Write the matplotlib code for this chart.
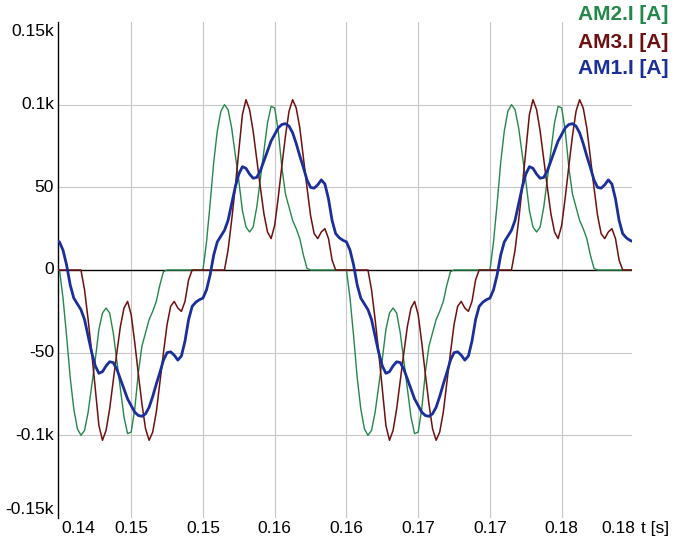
import numpy as np
import matplotlib
matplotlib.use("Agg")
import matplotlib.pyplot as plt
import matplotlib.transforms as mtrans

# ---------------- data ----------------
# sample times (s), step 0.25 ms
t = 0.13975 + 0.00025 * np.arange(162)

am2 = [0,
       0, -17, -40, -65, -84, -96, -100, -97, -86, -70, -54, -36, -26, -23, -26, -38, -55, -72, -89, -99,
       -98, -84, -62, -46, -38, -30, -25, -19, -9, -1, 0, 0, 0, 0, 0, 0, 0, 0, 0, 0,
       0, 17, 40, 65, 84, 96, 100, 97, 86, 70, 54, 36, 26, 23, 26, 38, 55, 72, 89, 99,
       98, 84, 62, 46, 38, 30, 25, 19, 9, 1, 0, 0, 0, 0, 0, 0, 0, 0, 0, 0,
       0, -17, -40, -65, -84, -96, -100, -97, -86, -70, -54, -36, -26, -23, -26, -38, -55, -72, -89, -99,
       -98, -84, -62, -46, -38, -30, -25, -19, -9, -1, 0, 0, 0, 0, 0, 0, 0, 0, 0, 0,
       0, 17, 40, 65, 84, 96, 100, 97, 86, 70, 54, 36, 26, 23, 26, 38, 55, 72, 89, 99,
       98, 84, 62, 46, 38, 30, 25, 19, 9, 1, 0, 0, 0, 0, 0, 0, 0, 0, 0, 0,
       0]

am3 = [0,
       0, 0, 0, 0, 0, 0, 0, -12, -30, -50, -72, -94, -103, -97, -84, -67, -50, -34, -23, -19,
       -27, -44, -63, -81, -96, -103, -98, -86, -68, -50, -33, -22, -19, -23, -25, -19, -6, 0, 0, 0,
       0, 0, 0, 0, 0, 0, 0, 12, 30, 50, 72, 94, 103, 97, 84, 67, 50, 34, 23, 19,
       27, 44, 63, 81, 96, 103, 98, 86, 68, 50, 33, 22, 19, 23, 25, 19, 6, 0, 0, 0,
       0, 0, 0, 0, 0, 0, 0, -12, -30, -50, -72, -94, -103, -97, -84, -67, -50, -34, -23, -19,
       -27, -44, -63, -81, -96, -103, -98, -86, -68, -50, -33, -22, -19, -23, -25, -19, -6, 0, 0, 0,
       0, 0, 0, 0, 0, 0, 0, 12, 30, 50, 72, 94, 103, 97, 84, 67, 50, 34, 23, 19,
       27, 44, 63, 81, 96, 103, 98, 86, 68, 50, 33, 22, 19, 23, 25, 19, 6, 0, 0, 0,
       0]

am1 = [18,
       17, 12, 3, -9, -17, -20.5, -24, -30, -40, -50, -58, -62.5, -61.5, -58, -55.5, -56, -60, -66, -72, -78,
       -82, -86, -88, -88.5, -87, -83, -76.5, -69, -62, -54.5, -50, -49.5, -51.5, -54.5, -52, -43, -30, -22, -19.5, -18,
       -17, -12, -3, 9, 17, 20.5, 24, 30, 40, 50, 58, 62.5, 61.5, 58, 55.5, 56, 60, 66, 72, 78,
       82, 86, 88, 88.5, 87, 83, 76.5, 69, 62, 54.5, 50, 49.5, 51.5, 54.5, 52, 43, 30, 22, 19.5, 18,
       17, 12, 3, -9, -17, -20.5, -24, -30, -40, -50, -58, -62.5, -61.5, -58, -55.5, -56, -60, -66, -72, -78,
       -82, -86, -88, -88.5, -87, -83, -76.5, -69, -62, -54.5, -50, -49.5, -51.5, -54.5, -52, -43, -30, -22, -19.5, -18,
       -17, -12, -3, 9, 17, 20.5, 24, 30, 40, 50, 58, 62.5, 61.5, 58, 55.5, 56, 60, 66, 72, 78,
       82, 86, 88, 88.5, 87, 83, 76.5, 69, 62, 54.5, 50, 49.5, 51.5, 54.5, 52, 43, 30, 22, 19.5, 18,
       17]

series_names = ["AM2.I [A]", "AM3.I [A]", "AM1.I [A]"]
xtick_pos = [0.1399, 0.145, 0.15, 0.155, 0.16, 0.165, 0.17, 0.175, 0.1799]
xtick_labels = ["0.14", "0.15", "0.15", "0.16", "0.16", "0.17", "0.17", "0.18", "0.18"]
ytick_pos = [150, 100, 50, 0, -50, -100, -150]
ytick_labels = ["0.15k", "0.1k", "50", "0", "-50", "-0.1k", "-0.15k"]

# ---------------- style ----------------
GREEN = "#23884a"
RED = "#6e1010"
BLUE = "#1a2f9a"
FONT = "Liberation Sans"

W, H = 678, 544
fig = plt.figure(figsize=(W / 100, H / 100), dpi=100)
ax = fig.add_axes([58 / W, 1 - 518 / H, (632 - 58) / W, (518 - 22) / H])
ax.set_xlim(0.1399, 0.1799)
ax.set_ylim(-150, 150)

for s in ["top", "right", "bottom"]:
    ax.spines[s].set_visible(False)
ax.spines["left"].set_color("black")
ax.spines["left"].set_linewidth(1.0)

ax.set_xticks(xtick_pos[1:-1])
ax.set_yticks([100, 50, -50, -100])
ax.grid(True, color="#c8c8c8", linewidth=0.8)
ax.tick_params(length=0, labelbottom=False, labelleft=False)
ax.set_axisbelow(True)

ax.axhline(0, color="black", linewidth=1.0, zorder=2)

ax.plot(t, am2, color=GREEN, linewidth=1.0, zorder=3)
ax.plot(t, am3, color=RED, linewidth=1.1, zorder=4)
ax.plot(t, am1, color=BLUE, linewidth=2.0, zorder=5)

# y labels
ytrans = mtrans.blended_transform_factory(ax.transAxes, ax.transData)
for v, lab in zip(ytick_pos, ytick_labels):
    va = "center"
    dy = 0
    if v == 150:
        va = "top"
        dy = -2
    elif v == -150:
        va = "bottom"
        dy = 1
    tr = mtrans.offset_copy(ytrans, fig=fig, x=-4, y=dy, units="dots")
    ax.text(0, v, lab, transform=tr, ha="right", va=va, fontsize=12.5,
            family=FONT, color="black", clip_on=False)

# x labels
xtrans = mtrans.blended_transform_factory(ax.transData, ax.transAxes)
n = len(xtick_pos)
for i, (v, lab) in enumerate(zip(xtick_pos, xtick_labels)):
    ha = "center"
    dx = 0
    if i == 0:
        ha = "left"
        dx = 3
    elif i == n - 1:
        ha = "right"
        dx = 3
    tr = mtrans.offset_copy(xtrans, fig=fig, x=dx, y=-3, units="dots")
    ax.text(v, 0, lab, transform=tr, ha=ha, va="top", fontsize=12.5,
            family=FONT, color="black", clip_on=False)
tr = mtrans.offset_copy(ax.transAxes, fig=fig, x=9, y=-3, units="dots")
ax.text(1, 0, "t [s]", transform=tr, ha="left", va="top", fontsize=12.5,
        family=FONT, color="black", clip_on=False)

# legend texts
for (lab, col, yy) in zip(series_names, [GREEN, RED, BLUE], [15, 42, 69]):
    fig.text(668 / W, 1 - yy / H, lab, ha="right", va="center", fontsize=15,
             fontweight="bold", family=FONT, color=col)

fig.savefig("out.png", dpi=100)
